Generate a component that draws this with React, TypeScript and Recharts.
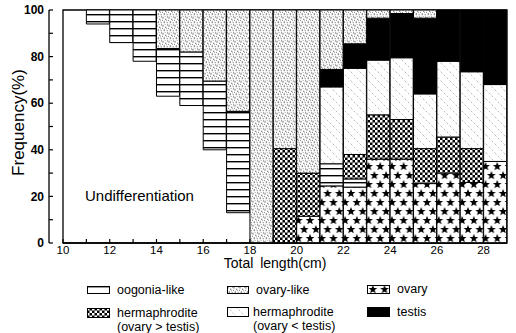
import React from 'react';
import { BarChart, Bar, XAxis, YAxis, ReferenceArea } from 'recharts';

// Total length classes (bar spans [length, length+1])
const lengths = [10, 11, 12, 13, 14, 15, 16, 17, 18, 19, 20, 21, 22, 23, 24, 25, 26, 27, 28];
const undifferentiation = [0, 94, 86, 78, 63, 59, 40, 13, 0, 0, 0, 0, 0, 0, 0, 0, 0, 0, 0];
const ovary = [0, 0, 0, 0, 0, 0, 0, 0, 0, 0, 11.5, 24.5, 24, 36, 36, 25.5, 30, 26, 35];
const oogoniaLike = [0, 6, 14, 22, 20.5, 23, 29.5, 43.5, 0, 0, 0, 9.5, 3.5, 0, 0, 0, 0, 0, 0];
const hermaOvaryGt = [0, 0, 0, 0, 0, 0, 0, 0, 0, 40.5, 18.5, 0, 10.5, 19, 17, 15, 15.5, 14.5, 0];
const hermaOvaryLt = [0, 0, 0, 0, 0, 0, 0, 0, 0, 0, 0, 33, 37, 23.5, 26.5, 23.5, 32.5, 33, 33];
const testis = [0, 0, 0, 0, 0, 0, 0, 0, 0, 0, 0, 7.5, 10.5, 18, 19, 32.5, 22, 26.5, 32];
const ovaryLike = [0, 0, 0, 0, 16.5, 18, 30.5, 43.5, 100, 59.5, 70, 25.5, 14.5, 3.5, 1.5, 3.5, 0, 0, 0];

const xTicks = [10, 11, 12, 13, 14, 15, 16, 17, 18, 19, 20, 21, 22, 23, 24, 25, 26, 27, 28];
const xLabels = [10, 12, 14, 16, 18, 20, 22, 24, 26, 28];
const yTicks = [0, 10, 20, 30, 40, 50, 60, 70, 80, 90, 100];
const yLabels = [0, 20, 40, 60, 80, 100];

const legendNames = [
  ['oogonia-like'],
  ['ovary-like'],
  ['ovary'],
  ['hermaphrodite', '(ovary > testis)'],
  ['hermaphrodite', '(ovary < testis)'],
  ['testis'],
];
const legendFills = ['url(#pOog)', 'url(#pOvl)', 'url(#pOvary)', 'url(#pHgt)', 'url(#pHlt)', '#000'];

const data = lengths.map((l, i) => ({
  length: l,
  undiff: undifferentiation[i],
  ovary: ovary[i],
  oog: oogoniaLike[i],
  hgt: hermaOvaryGt[i],
  hlt: hermaOvaryLt[i],
  testis: testis[i],
  ovl: ovaryLike[i],
}));

const FONT = '"Liberation Sans", Arial, sans-serif';

function starPath(cx: number, cy: number, R: number, r: number) {
  let d = '';
  for (let i = 0; i < 10; i++) {
    const rad = i % 2 === 0 ? R : r;
    const a = -Math.PI / 2 + (i * Math.PI) / 5;
    d += (i === 0 ? 'M' : 'L') + (cx + rad * Math.cos(a)).toFixed(2) + ',' + (cy + rad * Math.sin(a)).toFixed(2);
  }
  return d + 'Z';
}

const Patterns = () => (
  <svg width={0} height={0} style={{ position: 'absolute' }}>
    <defs>
      <pattern id="pOog" patternUnits="userSpaceOnUse" width={10} height={7}>
        <rect width={10} height={7} fill="#fff" />
        <rect y={0} width={10} height={1.4} fill="#000" />
      </pattern>
      <pattern id="pOvl" patternUnits="userSpaceOnUse" width={6} height={8}>
        <rect width={6} height={8} fill="#fff" />
        <g fill="#111" opacity={0.8}>
          <rect x={0.6} y={0.8} width={0.8} height={1.8} />
          <rect x={3.4} y={2.6} width={0.8} height={1.4} />
          <rect x={1.8} y={5.2} width={0.8} height={2} />
          <rect x={4.8} y={6.1} width={0.7} height={1.2} />
          <rect x={0.2} y={3.8} width={0.7} height={1} />
          <rect x={5} y={0.4} width={0.7} height={1.2} />
          <rect x={2.8} y={0.2} width={0.6} height={0.8} />
          <rect x={4.2} y={4.3} width={0.6} height={0.9} />
        </g>
      </pattern>
      <pattern id="pOvary" patternUnits="userSpaceOnUse" width={11.7} height={18}>
        <rect width={11.7} height={18} fill="#fff" />
        <path d={starPath(5.85, 4.5, 4.6, 2)} fill="#000" />
        <path d={starPath(0, 13.5, 4.6, 2)} fill="#000" />
        <path d={starPath(11.7, 13.5, 4.6, 2)} fill="#000" />
      </pattern>
      <pattern id="pHgt" patternUnits="userSpaceOnUse" width={5} height={5}>
        <rect width={5} height={5} fill="#000" />
        <rect x={0} y={0} width={2.5} height={2.5} fill="#fff" />
        <rect x={2.5} y={2.5} width={2.5} height={2.5} fill="#fff" />
      </pattern>
      <pattern id="pHlt" patternUnits="userSpaceOnUse" width={9} height={9}>
        <rect width={9} height={9} fill="#fff" />
        <line x1={0} y1={0} x2={9} y2={9} stroke="#777" strokeWidth={0.5} strokeDasharray="2 2" />
      </pattern>
    </defs>
  </svg>
);

const XTick = (props: any) => {
  const { x, y, payload } = props;
  const v = payload.value;
  return (
    <g>
      <line x1={x} x2={x} y1={y} y2={y - 4} stroke="#000" strokeWidth={1.2} />
      {xLabels.includes(v) && (
        <text x={x} y={y + 11} textAnchor="middle" fontSize={11.5} fontFamily={FONT} fill="#000">
          {v}
        </text>
      )}
    </g>
  );
};

const YTick = (props: any) => {
  const { x, y, payload } = props;
  const v = payload.value;
  return (
    <g>
      <line x1={x} x2={x + 4} y1={y} y2={y} stroke="#000" strokeWidth={1.2} />
      {yLabels.includes(v) && (
        <text x={x - 5} y={y} dy="0.35em" textAnchor="end" fontSize={12} fontWeight={700} fontFamily={FONT} fill="#000">
          {v}
        </text>
      )}
    </g>
  );
};

const RTick = (props: any) => {
  const { x, y } = props;
  return <line x1={x + 5} x2={x + 9} y1={y} y2={y} stroke="#000" strokeWidth={1.2} />;
};

const XTitle = (props: any) => {
  const { viewBox } = props;
  const cx = viewBox.x + viewBox.width / 2 - 10;
  return (
    <text x={cx} y={viewBox.y + 25} textAnchor="middle" fontSize={14} fontFamily={FONT} fill="#000" wordSpacing={3}>
      Total length(cm)
    </text>
  );
};

const YTitle = (props: any) => {
  const { viewBox } = props;
  const cx = viewBox.x + 18;
  const cy = viewBox.y + viewBox.height / 2 - 4;
  return (
    <text
      x={cx}
      y={cy}
      transform={`rotate(-90 ${cx} ${cy})`}
      textAnchor="middle"
      dominantBaseline="central"
      fontSize={17}
      fontFamily={FONT}
      fill="#000"
    >
      Frequency(%)
    </text>
  );
};

const legendPos = [
  { sx: 87, sy: 286, sw: 23, sh: 8, tx: 117 },
  { sx: 227, sy: 286, sw: 22, sh: 8, tx: 256 },
  { sx: 367, sy: 285, sw: 23, sh: 9, tx: 397 },
  { sx: 87, sy: 308, sw: 23, sh: 10, tx: 117 },
  { sx: 227, sy: 307, sw: 22, sh: 10, tx: 253 },
  { sx: 367, sy: 307, sw: 23, sh: 10, tx: 397 },
];

export default function App() {
  const barCommon = {
    xAxisId: 'cat',
    yAxisId: 'outer',
    stackId: 's',
    stroke: '#000',
    strokeWidth: 1,
    isAnimationActive: false,
  } as const;
  return (
    <div style={{ position: 'absolute', left: 0, top: 0, width: 516, height: 333, background: '#fff', fontFamily: FONT, overflow: 'hidden' }}>
      <Patterns />
      <BarChart
        width={516}
        height={280}
        data={data}
        margin={{ top: 10, right: 0, bottom: 0, left: 0 }}
        barCategoryGap={0}
        barGap={0}
      >
        <XAxis
          xAxisId="num"
          dataKey="length"
          type="number"
          domain={[10, 29]}
          allowDataOverflow
          ticks={xTicks}
          interval={0}
          height={37}
          tickSize={0}
          tickMargin={0}
          tickLine={false}
          tick={<XTick />}
          axisLine={{ stroke: '#000', strokeWidth: 1.3 }}
          label={(p: any) => <XTitle {...p} />}
        />
        <XAxis xAxisId="cat" dataKey="length" type="category" hide height={0} />
        <YAxis yAxisId="inner" domain={[0, 100]} width={14} tick={false} axisLine={false} tickLine={false} />
        <YAxis
          yAxisId="outer"
          domain={[0, 100]}
          ticks={yTicks}
          interval={0}
          width={49}
          tickSize={0}
          tickMargin={0}
          tickLine={false}
          tick={<YTick />}
          axisLine={{ stroke: '#000', strokeWidth: 1.3 }}
          label={(p: any) => <YTitle {...p} />}
        />
        <YAxis
          yAxisId="right"
          orientation="right"
          domain={[0, 100]}
          ticks={yTicks}
          interval={0}
          width={9}
          tickSize={0}
          tickMargin={0}
          tickLine={false}
          tick={<RTick />}
          axisLine={false}
        />
        <Bar {...barCommon} dataKey="undiff" fill="none" stroke="none" />
        <Bar {...barCommon} dataKey="ovary" fill="url(#pOvary)" />
        <Bar {...barCommon} dataKey="oog" fill="url(#pOog)" />
        <Bar {...barCommon} dataKey="hgt" fill="url(#pHgt)" />
        <Bar {...barCommon} dataKey="hlt" fill="url(#pHlt)" />
        <Bar {...barCommon} dataKey="testis" fill="#000" />
        <Bar {...barCommon} dataKey="ovl" fill="url(#pOvl)" />
        <ReferenceArea
          xAxisId="num"
          yAxisId="outer"
          x1={10}
          x2={29}
          y1={0}
          y2={100}
          fill="none"
          fillOpacity={0}
          stroke="#000"
          strokeWidth={1.3}
          ifOverflow="visible"
        />
      </BarChart>
      <div style={{ position: 'absolute', left: 85, top: 187, fontSize: 15, color: '#000', whiteSpace: 'nowrap' }}>
        Undifferentiation
      </div>
      {legendNames.map((lines, i) => {
        const p = legendPos[i];
        return (
          <React.Fragment key={i}>
            <svg style={{ position: 'absolute', left: p.sx, top: p.sy }} width={p.sw} height={p.sh}>
              <rect x={0.5} y={0.5} width={p.sw - 1} height={p.sh - 1} fill={legendFills[i]} stroke="#000" strokeWidth={1} />
            </svg>
            <div
              style={{
                position: 'absolute',
                left: p.tx,
                top: p.sy + p.sh / 2 - 7.5,
                fontSize: 12.5,
                lineHeight: '14px',
                color: '#000',
                whiteSpace: 'nowrap',
              }}
            >
              {lines.map((t, j) => (
                <div key={j}>{t}</div>
              ))}
            </div>
          </React.Fragment>
        );
      })}
    </div>
  );
}
